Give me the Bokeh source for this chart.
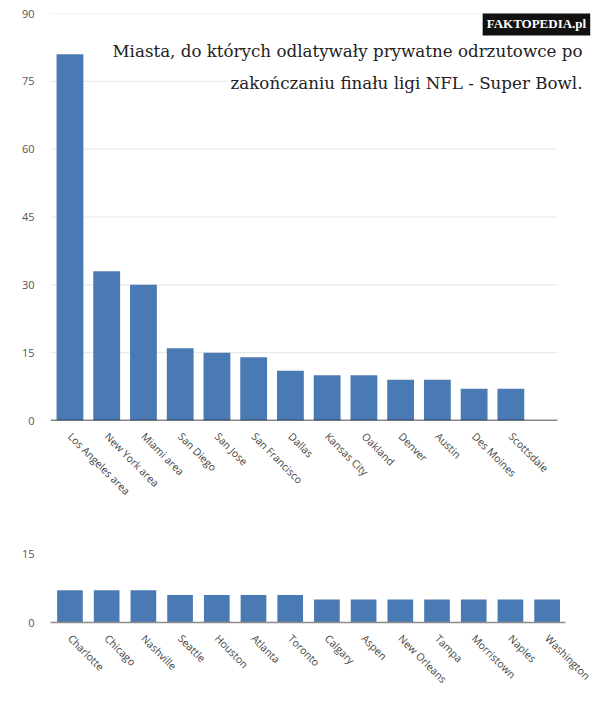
from bokeh.plotting import figure
from bokeh.models import FixedTicker, Label, Range1d
from bokeh.layouts import column
from bokeh.embed import file_html
from bokeh.resources import INLINE

# ---- data ----
cities_top = ["Los Angeles area", "New York area", "Miami area", "San Diego", "San Jose",
              "San Francisco", "Dallas", "Kansas City", "Oakland", "Denver", "Austin",
              "Des Moines", "Scottsdale"]
flights_top = [81, 33, 30, 16, 15, 14, 11, 10, 10, 9, 9, 7, 7]

cities_bottom = ["Charlotte", "Chicago", "Nashville", "Seattle", "Houston", "Atlanta",
                 "Toronto", "Calgary", "Aspen", "New Orleans", "Tampa", "Morristown",
                 "Naples", "Washington"]
flights_bottom = [7, 7, 7, 6, 6, 6, 6, 5, 5, 5, 5, 5, 5, 5]

top_ticks = [0, 15, 30, 45, 60, 75, 90]
bottom_ticks = [0, 15]

title_lines = ["Miasta, do których odlatywały prywatne odrzutowce po",
               "zakończaniu finału ligi NFL - Super Bowl."]
watermark = "FAKTOPEDIA.pl"

BAR = "#4a7ab3"
GRID = "#e6e6e6"
LABEL_FONT = "Open Sans"


def style(p, names, yticks, base_color):
    p.outline_line_color = None
    p.background_fill_color = "white"
    p.border_fill_color = "white"
    p.xgrid.grid_line_color = None
    p.ygrid.grid_line_color = GRID
    p.ygrid.ticker = FixedTicker(ticks=yticks[1:])
    p.yaxis.ticker = FixedTicker(ticks=yticks)
    p.yaxis.axis_line_color = None
    p.yaxis.major_tick_line_color = None
    p.yaxis.minor_tick_line_color = None
    p.yaxis.major_label_standoff = 10
    p.yaxis.major_label_text_font = LABEL_FONT
    p.yaxis.major_label_text_font_size = "11px"
    p.yaxis.major_label_text_color = "#555555"
    p.xaxis.ticker = FixedTicker(ticks=list(range(len(names))))
    p.xaxis.major_label_overrides = {i: n for i, n in enumerate(names)}
    p.xaxis.major_label_orientation = -0.785398
    p.xaxis.major_tick_line_color = None
    p.xaxis.minor_tick_line_color = None
    p.xaxis.axis_line_color = base_color
    p.xaxis.axis_line_width = 1.5
    p.xaxis.major_label_standoff = 8
    p.xaxis.major_label_text_font = LABEL_FONT
    p.xaxis.major_label_text_font_size = "10.5px"
    p.xaxis.major_label_text_color = "#444444"


# ---- top chart (frame runs to the right edge so the title is not clipped) ----
X0, X_GRID_END, X1 = -0.53, 13.27, 14.44
p1 = figure(frame_width=550, frame_height=407, x_range=Range1d(X0, X1), y_range=Range1d(0, 90),
            output_backend="svg", toolbar_location=None,
            min_border_left=50, min_border_right=0, min_border_top=13, min_border_bottom=108)
style(p1, cities_top, top_ticks, "#111111")
p1.ygrid.grid_line_color = None
p1.xaxis.axis_line_color = None
gy = top_ticks[1:]
p1.segment(x0=[X0] * len(gy), x1=[X_GRID_END] * len(gy), y0=gy, y1=gy,
           line_color=GRID, line_width=1)
p1.vbar(x=list(range(len(cities_top))), top=flights_top, width=0.73, bottom=0,
        fill_color=BAR, line_color=None)
p1.segment(x0=[X0], x1=[X_GRID_END], y0=[top_ticks[0]], y1=[top_ticks[0]],
           line_color="#111111", line_width=1.5)

p1.add_layout(Label(x=14.03, y=81.8, text=title_lines[0], text_align="right",
                    text_baseline="middle", text_font="DejaVu Serif", text_font_size="16.7px",
                    text_color="#222222", background_fill_color="white", padding=3))
p1.add_layout(Label(x=14.03, y=74.7, text=title_lines[1], text_align="right",
                    text_baseline="middle", text_font="DejaVu Serif", text_font_size="16.7px",
                    text_color="#222222", background_fill_color="white", padding=3))
p1.add_layout(Label(x=14.16, y=87.7, text=watermark, text_align="right",
                    text_baseline="middle", text_font="Liberation Serif", text_font_style="bold",
                    text_font_size="13px", text_color="white", background_fill_color="#111111",
                    padding=4))

# ---- bottom chart ----
p2 = figure(frame_width=515, frame_height=69, x_range=Range1d(-0.53, 13.5), y_range=Range1d(0, 15),
            output_backend="svg", toolbar_location=None,
            min_border_left=50, min_border_right=35, min_border_top=25, min_border_bottom=81)
p2.vbar(x=list(range(len(cities_bottom))), top=flights_bottom, width=0.7, bottom=0,
        fill_color=BAR, line_color=None)
style(p2, cities_bottom, bottom_ticks, "#8c8c8c")

layout = column(p1, p2, spacing=0)
open("out.html", "w").write(file_html(layout, INLINE))
